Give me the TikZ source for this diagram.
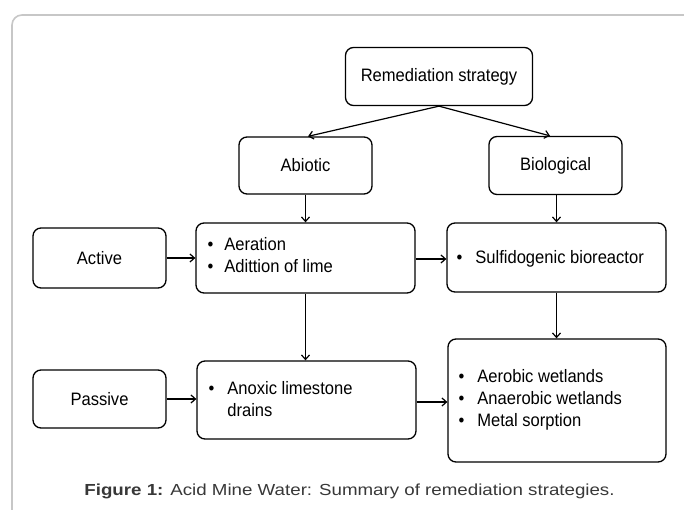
\documentclass[tikz,border=0pt]{standalone}
\usepackage{fontspec}
\setmainfont{Liberation Sans}
\newfontfamily\dfont[FakeStretch=0.92]{Liberation Sans}
\newfontfamily\cfont[FakeStretch=1.17]{Liberation Sans}
\usetikzlibrary{arrows.meta,calc}
\tikzset{
  box/.style={draw=black, line width=1.3pt, rounded corners=8pt, inner sep=0pt, align=center},
  lbl/.style={inner sep=0pt, anchor=west, align=left},
  conn/.style={line width=1.2pt, -{Straight Barb[length=4.5pt,width=8pt,line width=1.2pt]}},
}
\newcommand{\dtxt}{\dfont\fontsize{18}{22}\selectfont}
\begin{document}
\begin{tikzpicture}[x=1pt,y=-1pt,font=\dtxt]
\useasboundingbox (0,0) rectangle (684,510);
\fill[white] (0,0) rectangle (684,510);
% outer frame
\draw[draw=black!22, line width=1.6pt, rounded corners=10pt] (12,15) rectangle (720,540);

% boxes
\node[box, minimum width=187pt, minimum height=58pt] (rem) at (439,76.5) {Remediation strategy};
\node[box, minimum width=133pt, minimum height=57pt] (abio) at (305.5,165.5) {Abiotic};
\node[box, minimum width=133pt, minimum height=58pt] (bio) at (555.5,165.5) {Biological};
\node[box, minimum width=133pt, minimum height=60pt] (act) at (99.5,258) {Active};
\node[box, minimum width=133pt, minimum height=58pt] (pas) at (99.5,399) {Passive};
\node[box, minimum width=219pt, minimum height=70pt] (aer) at (305.5,258) {};
\node[box, minimum width=219pt, minimum height=69pt] (sulf) at (556.5,257.5) {};
\node[box, minimum width=219pt, minimum height=78pt] (anox) at (306.5,400) {};
\node[box, minimum width=218pt, minimum height=123pt] (wet) at (557,400.5) {};

% box contents
\node[lbl] (aert) at ([xshift=12pt,yshift=1pt]aer.west) {\begin{tabular}{@{}l@{\hspace{11pt}}l@{}}•&Aeration\\•&Adittion of lime\end{tabular}};
\node[lbl] (sulft) at ([xshift=10pt,yshift=-2pt]sulf.west) {\begin{tabular}{@{}l@{\hspace{13pt}}l@{}}•&Sulfidogenic bioreactor\end{tabular}};
\node[lbl] (anoxt) at ([xshift=12pt,yshift=-1.5pt]anox.west) {\begin{tabular}{@{}l@{\hspace{13pt}}l@{}}•&Anoxic limestone\\&drains\end{tabular}};
\node[lbl] (wett) at ([xshift=11pt]wet.west) {\begin{tabular}{@{}l@{\hspace{13pt}}l@{}}•&Aerobic wetlands\\•&Anaerobic wetlands\\•&Metal sorption\end{tabular}};

% connectors
\coordinate (split) at (rem.south);
\draw[conn] (split) -- ([xshift=2.5pt]abio.north);
\draw[conn] (split) -- ([xshift=-5.5pt]bio.north);
\draw[conn] (abio.south) -- (abio.south |- aer.north);
\draw[conn] ([xshift=1pt]bio.south) -- ([xshift=1pt]bio.south |- sulf.north);
\draw[conn] (aer.south) -- (aer.south |- anox.north);
\draw[conn] (sulf.south) -- (sulf.south |- wet.north);
\draw[conn] (act.east) -- (act.east -| aer.west);
\draw[conn] ([yshift=-1pt]aer.east) -- ([yshift=-1pt]aer.east -| sulf.west);
\draw[conn] (pas.east) -- (pas.east -| anox.west);
\draw[conn] ([yshift=-2pt]anox.east) -- ([yshift=-2pt]anox.east -| wet.west);

% caption
\node[inner sep=0pt, anchor=base, text=black!78, font=\cfont\fontsize{16}{19}\selectfont] (cap) at (349.5,495) {\textbf{Figure 1:} Acid Mine Water: Summary of remediation strategies.};
\end{tikzpicture}
\end{document}
